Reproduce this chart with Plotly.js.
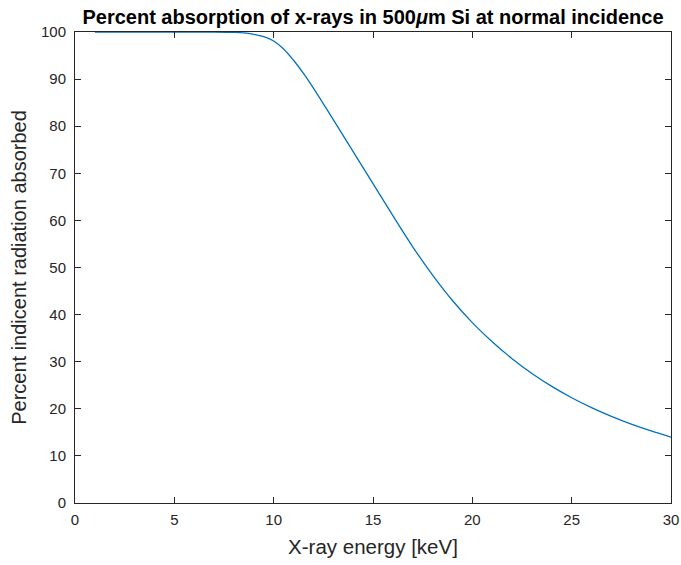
<!DOCTYPE html>
<html>
<head>
<meta charset="utf-8">
<script src="https://cdn.plot.ly/plotly-3.0.1.min.js"></script>
<style>html,body{margin:0;padding:0;background:#fff;}#chart{width:681px;height:565px;}</style>
</head>
<body>
<div id="chart"></div>
<script>
// X-ray energy in keV
const energyKeV = [1, 2, 3, 4, 5, 6, 7, 8, 8.5, 9, 9.5, 10, 10.5, 11, 11.5, 12, 13, 14, 15, 16, 17, 18, 19, 20, 21, 22, 23, 24, 25, 26, 27, 28, 29, 30];
// Percent absorbed
const percentAbsorbed = [100, 100, 100, 100, 100, 100, 99.99, 99.92, 99.8, 99.5, 99.0, 98.1, 96.4, 94.0, 91.2, 88.1, 81.4, 74.6, 67.8, 61.0, 54.4, 48.4, 43.0, 38.3, 34.25, 30.65, 27.5, 24.75, 22.35, 20.25, 18.4, 16.75, 15.3, 14.0];

const xTicks = [0, 5, 10, 15, 20, 25, 30];
const yTicks = [0, 10, 20, 30, 40, 50, 60, 70, 80, 90, 100];

const axisColor = '#262626';
const fontFam = '"Liberation Sans", Arial, Helvetica, sans-serif';

const trace = {
  x: energyKeV,
  y: percentAbsorbed,
  type: 'scatter',
  mode: 'lines',
  line: {color: '#0072BD', width: 1.3, shape: 'spline', smoothing: 1},
  hoverinfo: 'x+y'
};

const axisCommon = {
  showline: true,
  linecolor: axisColor,
  linewidth: 1,
  mirror: 'ticks',
  ticks: 'inside',
  ticklen: 6,
  tickwidth: 1,
  tickcolor: axisColor,
  showgrid: false,
  zeroline: false,
  tickfont: {family: fontFam, size: 15, color: axisColor},
  fixedrange: true
};

const layout = {
  width: 681,
  height: 565,
  margin: {l: 75, r: 10, t: 32, b: 62},
  paper_bgcolor: '#ffffff',
  plot_bgcolor: '#ffffff',
  showlegend: false,
  title: {
    text: '<b>Percent absorption of x-rays in 500<i>μ</i>m Si at normal incidence</b>',
    font: {family: fontFam, size: 20, color: '#000000'},
    x: 0.5, xref: 'paper', xanchor: 'center',
    y: 1, yref: 'paper', yanchor: 'bottom',
    pad: {b: 8}
  },
  xaxis: Object.assign({}, axisCommon, {
    range: [0, 30],
    tickvals: xTicks,
    ticktext: xTicks.map(String),
    ticklabelstandoff: 3,
    title: {text: 'X-ray energy [keV]', font: {family: fontFam, size: 20.5, color: axisColor}, standoff: 12}
  }),
  yaxis: Object.assign({}, axisCommon, {
    range: [0, 100],
    tickvals: yTicks,
    ticktext: yTicks.map(String),
    ticklabelstandoff: 5,
    title: {text: 'Percent indicent radiation absorbed', font: {family: fontFam, size: 20, color: axisColor}, standoff: 8}
  })
};

Plotly.newPlot('chart', [trace], layout, {displayModeBar: false, responsive: false});
</script>
</body>
</html>
